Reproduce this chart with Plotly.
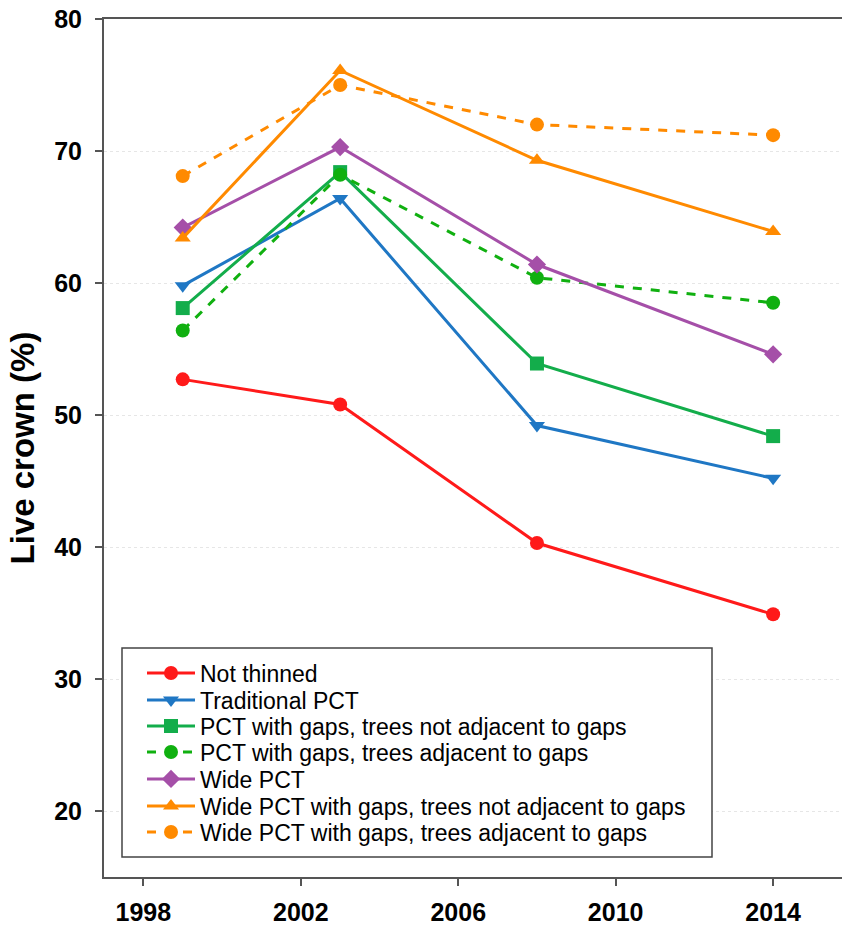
import plotly.graph_objects as go

years = [1999, 2003, 2008, 2014]
series_names = [
    "Not thinned",
    "Traditional PCT",
    "PCT with gaps, trees not adjacent to gaps",
    "PCT with gaps, trees adjacent to gaps",
    "Wide PCT",
    "Wide PCT with gaps, trees not adjacent to gaps",
    "Wide PCT with gaps, trees adjacent to gaps",
]
not_thinned = [52.7, 50.8, 40.3, 34.9]
traditional_pct = [59.8, 66.4, 49.2, 45.2]
pct_gaps_not_adj = [58.1, 68.4, 53.9, 48.4]
pct_gaps_adj = [56.4, 68.2, 60.4, 58.5]
wide_pct = [64.2, 70.3, 61.4, 54.6]
wide_gaps_not_adj = [63.4, 76.1, 69.3, 63.9]
wide_gaps_adj = [68.1, 75.0, 72.0, 71.2]

values = [not_thinned, traditional_pct, pct_gaps_not_adj, pct_gaps_adj,
          wide_pct, wide_gaps_not_adj, wide_gaps_adj]
colors = ["#FF1A1A", "#1F77C4", "#13AD4B", "#10B010", "#A54FA8", "#FF8A00", "#FF8A00"]
symbols = ["circle", "triangle-down", "square", "circle", "diamond", "triangle-up", "circle"]
dashes = ["solid", "solid", "solid", "dash", "solid", "solid", "dash"]

FONT = "Liberation Sans, Arial, sans-serif"
W, H = 842, 926
ML, MT, MB, MR = 104, 19, 49, 0
PW, PH = W - ML - MR, H - MT - MB

def px_x(p):
    return (p - ML) / PW

def px_y(p):
    return (H - MB - p) / PH

# legend layout (pixel positions in the page)
row_centers = [673, 700, 726, 752, 779, 806, 832]
legend_left = 142

fig = go.Figure()
legend_cfg = {}
for i, (name, v, c, s, d) in enumerate(zip(series_names, values, colors, symbols, dashes)):
    key = "legend" if i == 0 else f"legend{i + 1}"
    fig.add_trace(go.Scatter(
        x=years, y=v, name=name, mode="lines+markers",
        line=dict(color=c, width=3, dash=d),
        marker=dict(symbol=s, size=14, color=c),
        legend=key,
    ))
    legend_cfg[key] = dict(
        x=px_x(legend_left), y=px_y(row_centers[i]),
        xanchor="left", yanchor="middle",
        bgcolor="rgba(0,0,0,0)", borderwidth=0,
        font=dict(size=23, family=FONT, color="black"),
        itemwidth=48,
    )

fig.add_shape(
    type="rect", xref="paper", yref="paper",
    x0=px_x(122), x1=px_x(712), y0=px_y(857), y1=px_y(648),
    line=dict(color="#444", width=1.5), fillcolor="white", layer="above",
)

fig.update_layout(
    width=W, height=H,
    margin=dict(l=ML, r=MR, t=MT, b=MB, autoexpand=False),
    plot_bgcolor="white", paper_bgcolor="white",
    font=dict(family=FONT, color="black"),
    showlegend=True,
    xaxis=dict(
        range=[1997, 2015.75], tickvals=[1998, 2002, 2006, 2010, 2014],
        showline=True, linecolor="#555", linewidth=2, mirror=True,
        ticks="outside", ticklen=7, tickcolor="#555", tickwidth=1.5,
        showgrid=False, zeroline=False, automargin=False,
        tickfont=dict(size=25, family=FONT, weight="bold"),
        ticklabelstandoff=5,
    ),
    yaxis=dict(
        range=[15, 80], tickvals=[20, 30, 40, 50, 60, 70, 80],
        showline=True, linecolor="#555", linewidth=2, mirror=False,
        ticks="outside", ticklen=7, tickcolor="#555", tickwidth=1.5,
        showgrid=True, gridcolor="#e6e6e6", griddash="dot", gridwidth=1,
        zeroline=False, automargin=False,
        tickfont=dict(size=25, family=FONT, weight="bold"),
        ticklabelstandoff=8,
        title=dict(text="Live crown (%)", standoff=10,
                   font=dict(size=33, family=FONT, weight="bold")),
    ),
    **legend_cfg,
)

fig.write_html(
    "out.html",
    config={"displayModeBar": False},
    post_script="document.body.style.margin='0';document.body.style.overflow='hidden';",
)
